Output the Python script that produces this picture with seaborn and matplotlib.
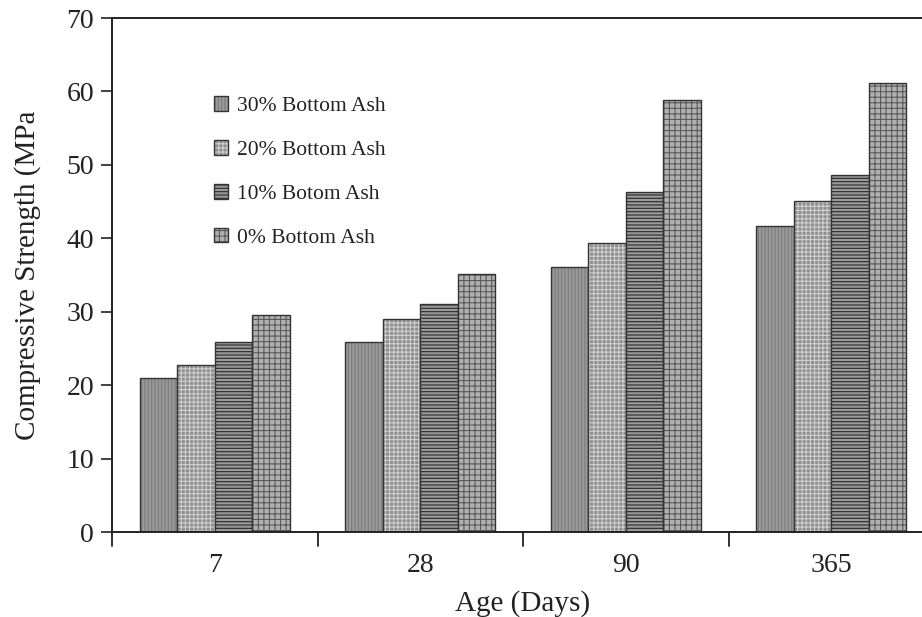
import matplotlib
matplotlib.use("Agg")
import matplotlib.pyplot as plt
import seaborn as sns
import pandas as pd

ages = ["7", "28", "90", "365"]
series = ["30% Bottom Ash", "20% Bottom Ash", "10% Botom Ash", "0% Bottom Ash"]
v30 = [21.0, 25.9, 36.1, 41.7]
v20 = [22.7, 29.0, 39.4, 45.1]
v10 = [25.9, 31.0, 46.3, 48.6]
v0 = [29.6, 35.1, 58.8, 61.1]

rows = []
for s, vals in zip(series, [v30, v20, v10, v0]):
    for a, v in zip(ages, vals):
        rows.append({"Age": a, "Series": s, "Strength": v})
df = pd.DataFrame(rows)

sns.set_theme(style="white")
plt.rcParams["font.family"] = ["Liberation Serif", "DejaVu Serif"]
plt.rcParams["hatch.linewidth"] = 0.8

fig = plt.figure(figsize=(9.22, 6.17), dpi=100)
ax = fig.add_axes([112 / 922, 1 - 532 / 617, (934 - 112) / 922, (532 - 18) / 617])

faces = ["#9a9a9a", "#8e8e8e", "#9a9a9a", "#b0b0b0"]
hatches = ["|||||", "++++", "-----", "+++"]
hcolors = ["#7a7a7a", "#cfcfcf", "#2a2a2a", "#5a5a5a"]

sns.barplot(data=df, x="Age", y="Strength", hue="Series", order=ages,
            hue_order=series, palette=faces, width=0.73, saturation=1,
            edgecolor="#333333", linewidth=1.0, ax=ax, legend=True)

for cont, fc, h, hc in zip(ax.containers, faces, hatches, hcolors):
    for bar in cont:
        bar.set_facecolor(fc)
        bar.set_hatch(h)
        bar._hatch_color = matplotlib.colors.to_rgba(hc)

ax.set_ylim(0, 70)
ax.set_xlim(-0.5, 3.5)
ax.set_yticks(range(0, 71, 10))
ax.set_xticks([0, 1, 2, 3])
ax.set_xticklabels(ages)
ax.tick_params(axis="x", length=0, labelsize=20, pad=15, colors="#222222")
ax.tick_params(axis="y", direction="out", length=8, width=1.2, labelsize=20,
               left=True, pad=5, colors="#222222")
for x in [-0.5, 0.5, 1.5, 2.5]:
    ax.plot([x, x], [0, -0.028], transform=ax.get_xaxis_transform(),
            color="#222222", lw=1.3, clip_on=False)

for sp in ["left", "bottom", "top"]:
    ax.spines[sp].set_visible(True)
    ax.spines[sp].set_color("#222222")
    ax.spines[sp].set_linewidth(1.4)
ax.spines["right"].set_visible(False)

ax.set_xlabel("Age (Days)", fontsize=21, color="#222222", labelpad=9)
ax.set_ylabel("Compressive Strength (MPa", fontsize=21, color="#222222", labelpad=18)

leg = ax.legend(loc="upper left", bbox_to_anchor=(0.10, 0.885), frameon=False,
                fontsize=15.5, labelspacing=1.12, handlelength=0.65,
                handleheight=0.65, handletextpad=0.45)
for hnd, fc, h, hc in zip(leg.legend_handles, faces, hatches, hcolors):
    hnd.set_facecolor(fc)
    hnd.set_edgecolor("#333333")
    hnd.set_hatch(h)
    hnd._hatch_color = matplotlib.colors.to_rgba(hc)
for t in leg.get_texts():
    t.set_color("#222222")

fig.savefig("out.png", dpi=100)
